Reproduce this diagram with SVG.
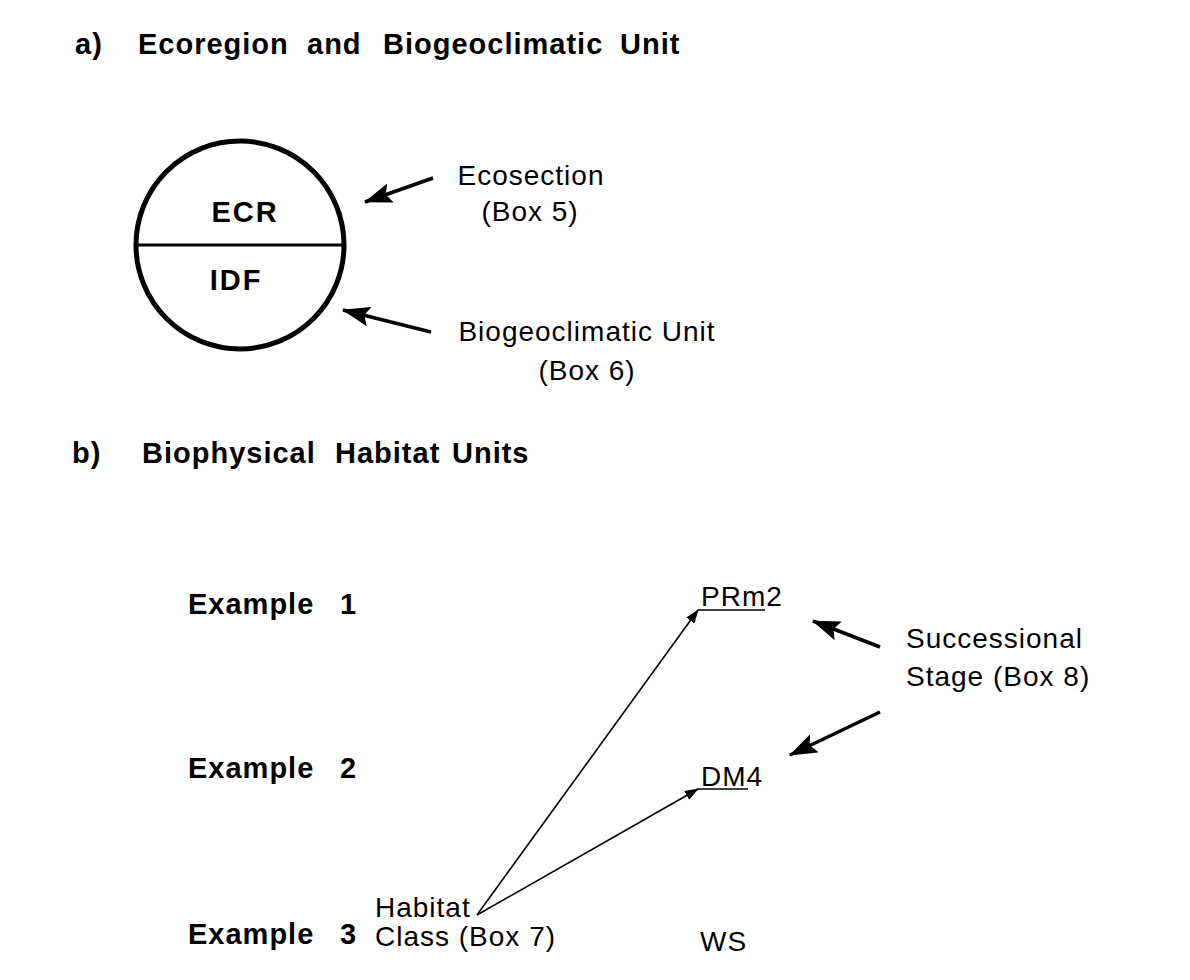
<svg xmlns="http://www.w3.org/2000/svg" width="1190" height="980" viewBox="0 0 1190 980">
<defs>
<style>
.h{font-family:"Liberation Sans",Arial,sans-serif;font-weight:bold;font-size:29px;letter-spacing:1px;fill:#000}
.t{font-family:"Liberation Sans",Arial,sans-serif;font-size:28px;letter-spacing:1px;fill:#000}
.thick{stroke:#000;stroke-width:3.5;fill:none}
.thin{stroke:#000;stroke-width:1.6;fill:none}
.ul{stroke:#000;stroke-width:1.5}
</style>
<marker id="bigh" viewBox="0 0 28 20" refX="27" refY="10" markerWidth="28" markerHeight="20" orient="auto" markerUnits="userSpaceOnUse">
<path d="M0,0 L28,10 L0,20 L5,10 z" fill="#000"/>
</marker>
<marker id="small" viewBox="0 0 14 10" refX="13" refY="5" markerWidth="14" markerHeight="10" orient="auto" markerUnits="userSpaceOnUse">
<path d="M0,0 L14,5 L0,10 z" fill="#000"/>
</marker>
</defs>
<rect width="1190" height="980" fill="#fff"/>
<g id="heading-a"><text class="h" y="54"><tspan x="75">a)</tspan><tspan x="138">Ecoregion</tspan><tspan x="307">and</tspan><tspan x="383">Biogeoclimatic</tspan><tspan x="620">Unit</tspan></text></g>
<g id="circle-node">
<circle cx="240" cy="245" r="104" fill="none" stroke="#000" stroke-width="5"/>
<line x1="137" y1="245" x2="343" y2="245" stroke="#000" stroke-width="3"/>
<text class="h" x="245" y="222" text-anchor="middle" style="letter-spacing:2px">ECR</text>
<text class="h" x="236" y="290" text-anchor="middle" style="letter-spacing:2px">IDF</text>
</g>
<g id="ecosection-label"><text class="t" x="531" y="185" text-anchor="middle">Ecosection</text><text class="t" x="530" y="221" text-anchor="middle">(Box 5)</text></g>
<g id="bgc-label"><text class="t" x="587" y="341" text-anchor="middle">Biogeoclimatic Unit</text><text class="t" x="587" y="380" text-anchor="middle">(Box 6)</text></g>
<g id="heading-b"><text class="h" y="463"><tspan x="72">b)</tspan><tspan x="142">Biophysical</tspan><tspan x="335">Habitat</tspan><tspan x="452">Units</tspan></text></g>
<g id="ex1"><text class="h" y="614"><tspan x="188">Example</tspan><tspan x="340">1</tspan></text></g>
<g id="ex2"><text class="h" y="778"><tspan x="188">Example</tspan><tspan x="340">2</tspan></text></g>
<g id="ex3"><text class="h" y="944"><tspan x="188">Example</tspan><tspan x="340">3</tspan></text></g>
<g id="prm2"><text class="t" x="701" y="606">PRm2</text><line class="ul" x1="698" y1="610" x2="765" y2="610"/></g>
<g id="dm4"><text class="t" x="701" y="786">DM4</text><line class="ul" x1="698" y1="789" x2="748" y2="789"/></g>
<g id="ws"><text class="t" x="700" y="951">WS</text></g>
<g id="habitat-class"><text class="t" x="375" y="917">Habitat</text><text class="t" x="375" y="946">Class (Box 7)</text></g>
<g id="succ-label"><text class="t" x="906" y="648">Successional</text><text class="t" x="906" y="686">Stage (Box 8)</text></g>
<g id="connectors">
<line class="thick" x1="433" y1="178" x2="365" y2="202" marker-end="url(#bigh)"/>
<line class="thick" x1="431" y1="332" x2="343" y2="310" marker-end="url(#bigh)"/>
<line class="thin" x1="477" y1="915" x2="698" y2="610" marker-end="url(#small)"/>
<line class="thin" x1="477" y1="915" x2="698" y2="789" marker-end="url(#small)"/>
<line class="thick" x1="880" y1="647" x2="813" y2="621" marker-end="url(#bigh)"/>
<line class="thick" x1="880" y1="712" x2="790" y2="755" marker-end="url(#bigh)"/>
</g>
</svg>
